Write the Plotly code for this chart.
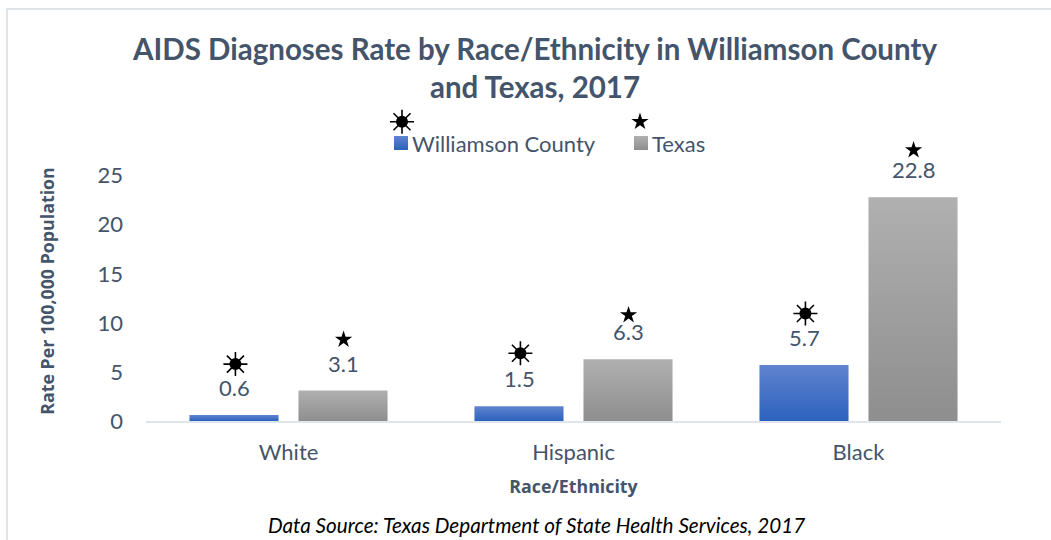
import plotly.graph_objects as go

categories = ["White", "Hispanic", "Black"]
williamson = [0.6, 1.5, 5.7]
texas = [3.1, 6.3, 22.8]
sun_heights = [5.8, 6.9, 10.95]
star_heights = [8.3, 10.8, 27.6]
y_ticks = [0, 5, 10, 15, 20, 25]
legend_symbol_height = 30.5

W, H = 1051, 540
L, R, T, B = 146, 50, 107, 119
PW, PH = W - L - R, H - T - B
INK = "#44546a"
FONT = "Lato, 'Noto Sans', sans-serif"
OFFSET = 54.5
SLOT = OFFSET / (PW / 3)


def px(x):
    return (x - L) / PW


def py(y):
    return (H - B - y) / PH


def cat_pos(x):
    return (x - L) / (PW / 3) - 0.5


positions = list(range(len(categories)))
sun_x = [p - SLOT + 0.005 for p in positions] + [cat_pos(402)]
sun_y = sun_heights + [legend_symbol_height]
star_x = [p + SLOT + 0.002 for p in positions] + [cat_pos(640)]
star_y = star_heights + [legend_symbol_height]

fig = go.Figure()
fig.add_bar(name="Williamson County", x=categories, y=williamson, marker_color="#4a73c4", marker_line_width=0)
fig.add_bar(name="Texas", x=categories, y=texas, marker_color="#a0a0a0", marker_line_width=0)
common = dict(mode="markers", xaxis="x2", showlegend=False, hoverinfo="skip", cliponaxis=False)
fig.add_scatter(x=sun_x, y=sun_y, marker=dict(symbol="asterisk-open", size=20, color="black", line=dict(color="black", width=1.6)), **common)
fig.add_scatter(x=sun_x, y=sun_y, marker=dict(symbol="circle", size=12, color="black", line_width=0), **common)
fig.add_scatter(x=star_x, y=star_y, marker=dict(symbol="star", size=13, color="black", line_width=0), **common)

ann = []
for i, c in enumerate(categories):
    for val, sh in ((williamson[i], -OFFSET), (texas[i], OFFSET)):
        ann.append(dict(x=c, y=val, xshift=sh, yshift=12, yanchor="bottom", text=str(val),
                        showarrow=False, font=dict(size=22, color=INK)))
ann.append(dict(xref="paper", yref="paper", x=px(536), y=py(525), xanchor="center", yanchor="middle",
                text="<i>Data Source: Texas Department of State Health Services, 2017</i>",
                showarrow=False, font=dict(size=20.7, color="black")))

AXIS_TITLE = dict(size=17.8, color=INK, family="'Open Sans', sans-serif")
fig.update_layout(
    width=W, height=H, margin=dict(l=L, r=R, t=T, b=B, autoexpand=False),
    paper_bgcolor="white", plot_bgcolor="white",
    font=dict(family=FONT, color=INK, size=22),
    barmode="group", bargap=0.235, bargroupgap=0.183,
    title=dict(text="<b>AIDS Diagnoses Rate by Race/Ethnicity in Williamson County<br>and Texas, 2017</b>",
               x=535 / W, xanchor="center", y=1 - 59.5 / H, yanchor="middle",
               font=dict(size=29.5, color=INK)),
    legend=dict(orientation="h", x=px(380), y=py(130), xanchor="left", yanchor="top",
                font=dict(size=22, color=INK), bgcolor="rgba(0,0,0,0)"),
    xaxis=dict(showline=True, linecolor="#dfe5ec", linewidth=2, ticks="", ticklabelstandoff=11,
               tickfont=dict(size=22, color=INK),
               title=dict(text="<b>Race/Ethnicity</b>", font=AXIS_TITLE, standoff=16)),
    xaxis2=dict(overlaying="x", range=[-0.5, 2.5], visible=False),
    yaxis=dict(range=[0, 32], tickvals=y_ticks, showgrid=False, zeroline=False, ticks="", showline=False,
               ticklabelstandoff=22, tickfont=dict(size=22, color=INK),
               title=dict(text="<b>Rate Per 100,000 Population</b>", font=AXIS_TITLE, standoff=38)),
    annotations=ann,
    shapes=[dict(type="rect", xref="paper", yref="paper",
                 x0=px(7), x1=px(1070), y0=py(560), y1=py(9),
                 line=dict(color="#e0e4e8", width=2), layer="below")],
)

post = """
document.body.style.margin='0';
var svg = document.querySelector('.main-svg');
var ns = 'http://www.w3.org/2000/svg';
function grad(id, a, b){
  var g = document.createElementNS(ns,'linearGradient');
  g.setAttribute('id',id); g.setAttribute('x1','0'); g.setAttribute('y1','0'); g.setAttribute('x2','0'); g.setAttribute('y2','1');
  [[0,a],[1,b]].forEach(function(s){var st=document.createElementNS(ns,'stop');st.setAttribute('offset',s[0]);st.setAttribute('stop-color',s[1]);g.appendChild(st);});
  svg.querySelector('defs').appendChild(g);
}
grad('gb','#6083cf','#2c62bd'); grad('gg','#b0b0b0','#8e8e8e');
var ids=['gb','gg'];
document.querySelectorAll('.barlayer .trace').forEach(function(t,i){
  t.querySelectorAll('path').forEach(function(p){p.style.fill='url(#'+ids[i]+')';});
});
var sb=document.querySelector('.legend .scrollbox'); if(sb){sb.removeAttribute('clip-path');}
var targets=[[394,143],[634,143]];
document.querySelectorAll('.legend .traces').forEach(function(t,i){
  var p=t.querySelector('.legendpoints path');
  p.setAttribute('d','M7,7H-7V-7H7Z');
  p.style.fill='url(#'+ids[i]+')';
  var r=p.getBoundingClientRect();
  var m=/translate\\(([-\\d.]+)[ ,]*([-\\d.]*)\\)/.exec(t.getAttribute('transform')||'');
  var tx=m?parseFloat(m[1]):0, ty=m&&m[2]?parseFloat(m[2]):0;
  t.setAttribute('transform','translate('+(tx+targets[i][0]-r.left)+','+(ty+targets[i][1]-(r.top+r.height/2))+')');
  var txt=t.querySelector('text.legendtext');
  var pr=p.getBoundingClientRect(), tr=txt.getBoundingClientRect();
  txt.setAttribute('x', parseFloat(txt.getAttribute('x'))-(tr.left-pr.right)+4);
});
var yt=document.querySelector('.ytitle');
if(yt){yt.setAttribute('transform','translate(0,27) '+(yt.getAttribute('transform')||''));}
"""
fig.write_html("out.html", post_script=post, config=dict(displayModeBar=False))
